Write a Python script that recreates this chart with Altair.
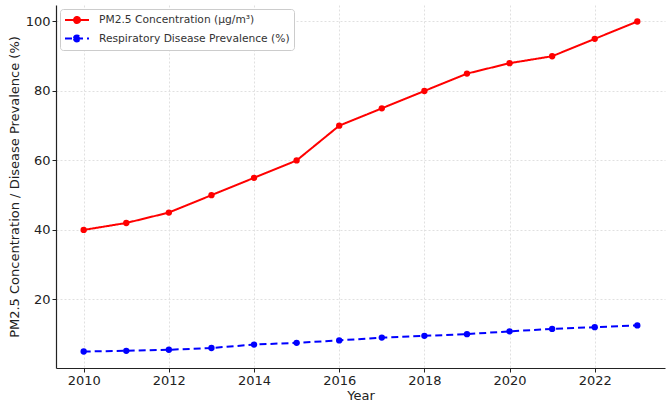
import altair as alt
import pandas as pd

# Yearly series
years = list(range(2010, 2024))
pm25 = [40, 42, 45, 50, 55, 60, 70, 75, 80, 85, 88, 90, 95, 100]
respiratory = [5.0, 5.2, 5.5, 6.0, 7.0, 7.5, 8.2, 9.0, 9.5, 10.0, 10.8, 11.5, 12.0, 12.5]

series_names = ["PM2.5 Concentration (μg/m³)", "Respiratory Disease Prevalence (%)"]
series_colors = ["#ff0000", "#0000ff"]
series_dashes = [[1, 0], [7, 4]]

x_ticks = [2010, 2012, 2014, 2016, 2018, 2020, 2022]
y_ticks = [20, 40, 60, 80, 100]

df = pd.concat(
    [
        pd.DataFrame({"Year": years, "Value": pm25, "Series": series_names[0]}),
        pd.DataFrame({"Year": years, "Value": respiratory, "Series": series_names[1]}),
    ],
    ignore_index=True,
)

FONT = "DejaVu Sans"
# legend glyph: a horizontal stroke with a marker dot in the middle
# (drawn wider than the nominal symbol box so the rows stay compact)
LEGEND_GLYPH = "M-1,0H3M0.5,0A0.5,0.5,0,1,1,1.5,0A0.5,0.5,0,1,1,0.5,0Z"

legend = alt.Legend(
    title=None,
    orient="top-left",
    offset=4,
    padding=4,
    rowPadding=4.5,
    symbolType=LEGEND_GLYPH,
    symbolSize=144,
    symbolStrokeWidth=2,
    labelOffset=21,
    labelFont=FONT,
    labelFontSize=10.7,
    labelColor="#333333",
    labelLimit=400,
    strokeColor="#cccccc",
    cornerRadius=3,
    fillColor="white",
)

x_enc = alt.X(
    "Year:Q",
    scale=alt.Scale(domain=[2009.35, 2023.65], nice=False, zero=False),
    axis=alt.Axis(
        values=x_ticks,
        format="d",
        title="Year",
        titleY=27,
        titleBaseline="middle",
    ),
)
y_enc = alt.Y(
    "Value:Q",
    scale=alt.Scale(domain=[0.25, 104.75], nice=False, zero=False),
    axis=alt.Axis(
        values=y_ticks,
        title="PM2.5 Concentration / Disease Prevalence (%)",
        titleX=-42,
        titleY=181.5,
        titleAngle=-90,
        titleAlign="center",
        titleBaseline="middle",
    ),
)
color_enc = alt.Color(
    "Series:N",
    scale=alt.Scale(domain=series_names, range=series_colors),
    legend=legend,
)
dash_enc = alt.StrokeDash(
    "Series:N",
    scale=alt.Scale(domain=series_names, range=series_dashes),
    legend=legend,
)

lines = alt.Chart(df).mark_line(strokeWidth=2).encode(
    x=x_enc, y=y_enc, color=color_enc, strokeDash=dash_enc
)
points = alt.Chart(df).mark_point(filled=True, size=40, opacity=1).encode(
    x=x_enc, y=y_enc, color=color_enc
)

chart = (
    alt.layer(lines, points)
    .properties(
        width=609,
        height=363,
        autosize=alt.AutoSizeParams(type="none"),
        padding={"left": 56, "top": 5, "right": 7, "bottom": 36},
        background="white",
    )
    .configure_view(stroke=None)
    .configure_axis(
        labelFont=FONT,
        labelFontSize=13,
        labelColor="#222222",
        titleFont=FONT,
        titleFontSize=13,
        titleFontWeight="normal",
        titleColor="#222222",
        domainColor="#222222",
        domainWidth=1.2,
        tickColor="#222222",
        tickSize=4,
        labelPadding=2,
        gridColor="#e0e0e0",
        gridDash=[2, 2],
        gridWidth=1,
    )
)

chart.save("out.html", embed_options={"renderer": "svg", "actions": False})
